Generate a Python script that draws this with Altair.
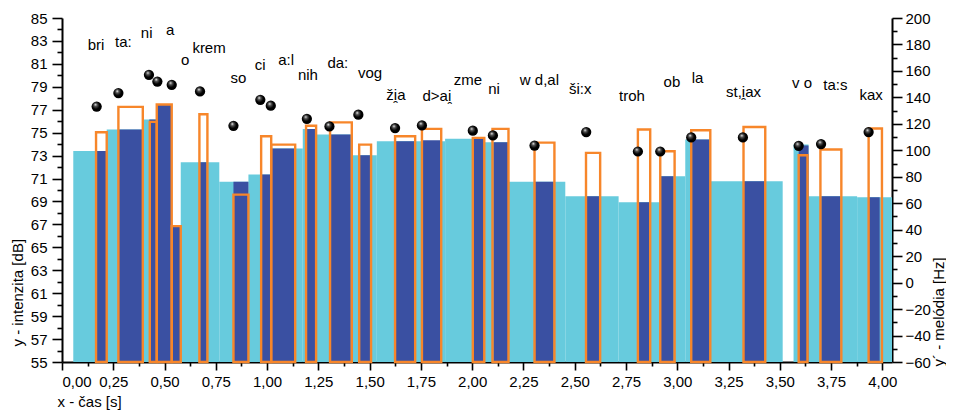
import altair as alt
import pandas as pd

# ---- data ----
# background (word) intensity segments, dB
cyan_x0 = [0.055, 0.218, 0.394, 0.579, 0.767, 0.909, 1.020, 1.174, 1.239, 1.408, 1.535, 1.868, 2.059, 2.177, 2.454, 2.714, 2.917, 3.039, 3.158, 3.567, 3.640, 3.877]
cyan_x1 = [0.218, 0.394, 0.535, 0.767, 0.909, 1.020, 1.174, 1.239, 1.408, 1.535, 1.868, 2.059, 2.177, 2.454, 2.714, 2.917, 3.039, 3.158, 3.514, 3.640, 3.877, 4.047]
cyan_db = [73.4, 75.27, 76.14, 72.42, 70.71, 71.35, 73.62, 75.33, 74.84, 73.03, 74.25, 74.46, 74.17, 70.71, 69.46, 68.94, 71.2, 74.4, 70.77, 73.96, 69.46, 69.37]

# vowel intensity bars (dark blue), dB
v_x0 = [0.169, 0.275, 0.426, 0.462, 0.535, 0.673, 0.836, 0.971, 1.020, 1.194, 1.307, 1.449, 1.624, 1.755, 2.003, 2.104, 2.307, 2.559, 2.811, 2.917, 3.072, 3.323, 3.592, 3.702, 3.933]
v_x1 = [0.218, 0.394, 0.462, 0.535, 0.579, 0.706, 0.909, 1.020, 1.137, 1.239, 1.408, 1.507, 1.719, 1.849, 2.059, 2.177, 2.397, 2.620, 2.868, 2.982, 3.158, 3.429, 3.640, 3.795, 3.987]
v_db = [73.4, 75.27, 76.14, 77.45, 66.85, 72.42, 70.71, 71.35, 73.62, 75.33, 74.84, 73.03, 74.25, 74.34, 74.46, 74.17, 70.71, 69.46, 68.94, 71.2, 74.4, 70.77, 73.87, 69.46, 69.37]

# orange outlined bars, dB
o_x0 = [0.166, 0.275, 0.428, 0.462, 0.535, 0.670, 0.836, 0.971, 1.020, 1.190, 1.307, 1.449, 1.624, 1.755, 2.003, 2.099, 2.304, 2.555, 2.808, 2.917, 3.068, 3.323, 3.592, 3.698, 3.933]
o_x1 = [0.218, 0.394, 0.462, 0.535, 0.579, 0.709, 0.909, 1.020, 1.137, 1.239, 1.413, 1.507, 1.722, 1.849, 2.059, 2.177, 2.401, 2.624, 2.868, 2.987, 3.161, 3.429, 3.635, 3.800, 3.998]
o_db = [75.04, 77.25, 75.94, 77.45, 66.85, 76.6, 69.6, 74.69, 73.96, 75.6, 75.9, 73.96, 74.69, 75.33, 74.55, 75.33, 74.13, 73.24, 75.27, 73.38, 75.21, 75.5, 73.03, 73.53, 75.36]

# melody points, Hz (right axis)
d_x = [0.169, 0.275, 0.424, 0.465, 0.535, 0.673, 0.836, 0.967, 1.018, 1.194, 1.304, 1.445, 1.624, 1.755, 2.003, 2.101, 2.304, 2.556, 2.808, 2.917, 3.068, 3.320, 3.592, 3.701, 3.933]
d_hz = [133.1, 143.3, 157.1, 152.0, 149.5, 144.5, 118.5, 138.2, 133.7, 123.8, 118.0, 126.9, 116.8, 118.8, 114.8, 111.2, 103.6, 113.8, 99.1, 99.1, 109.7, 109.7, 103.4, 104.7, 113.8]

# syllable labels
lab_text = ["bri", "ta:", "ni", "a", "o", "krem", "so", "ci", "a:l", "nih", "da:", "vog",
            "ži\u032fa", "d>ai\u032f", "zme", "ni", "w d,al", "ši:x", "troh", "ob", "la",
            "st,i\u032fax", "v o", "ta:s", "kax"]
lab_x = [0.166, 0.299, 0.413, 0.527, 0.600, 0.717, 0.860, 0.966, 1.093, 1.199, 1.345, 1.502,
         1.628, 1.828, 1.979, 2.107, 2.328, 2.527, 2.779, 2.974, 3.099, 3.323, 3.608, 3.771, 3.945]
lab_db = [82.61, 82.91, 83.69, 83.98, 81.31, 82.39, 79.77, 80.93, 81.37, 80.0, 81.08, 80.21,
          78.32, 78.17, 79.56, 78.82, 79.56, 78.82, 78.17, 79.39, 79.77, 78.55, 79.34, 79.19, 78.26]

x_ticks = [i * 0.125 for i in range(33)]
db_ticks = list(range(55, 86))
hz_ticks = list(range(-60, 201, 10))

CYAN = "#67CBDD"
BLUE = "#3A50A2"
ORANGE = "#F7862A"
FONT = "Liberation Sans"

cyan_df = pd.DataFrame({"x0": cyan_x0, "x1": cyan_x1, "db": cyan_db})
v_df = pd.DataFrame({"x0": v_x0, "x1": v_x1, "db": v_db})
o_df = pd.DataFrame({"x0": o_x0, "x1": o_x1, "db": o_db})
d_df = pd.DataFrame({"x0": d_x, "hz": d_hz})
lab_df = pd.DataFrame({"x0": lab_x, "db": lab_db, "t": lab_text})

xscale = alt.Scale(domain=[0, 4.047], nice=False, zero=False)
yscale = alt.Scale(domain=[55, 85], nice=False, zero=False)
hzscale = alt.Scale(domain=[-60, 200], nice=False, zero=False)

x_axis = alt.Axis(
    values=x_ticks,
    labelExpr="datum.value % 0.25 === 0 ? replace(format(datum.value, '.2f'), '.', ',') : ''",
    tickSize={"condition": {"test": "datum.value % 0.25 !== 0", "value": 4}, "value": 8},
    labelPadding=4,
    title="x - čas [s]",
    titleX=-5, titleY=39, titleAlign="left", titleBaseline="middle",
    grid=False,
)
y_axis = alt.Axis(
    values=db_ticks,
    labelExpr="datum.value % 2 === 1 ? datum.label : ''",
    tickSize={"condition": {"test": "datum.value % 2 !== 1", "value": 5}, "value": 10},
    labelPadding=5,
    title="y - intenzita [dB]",
    titleAngle=270, titleX=-45, titleY=328, titleAlign="left", titleBaseline="middle",
    grid=False,
)
hz_axis = alt.Axis(
    orient="right",
    values=hz_ticks,
    labelExpr="datum.value % 20 === 0 ? datum.label : ''",
    tickSize={"condition": {"test": "datum.value % 20 !== 0", "value": 5}, "value": 10},
    labelPadding=3,
    title="y´ - melódia [Hz]",
    titleAngle=270, titleX=46, titleY=348, titleAlign="left", titleBaseline="middle",
    grid=False,
)

X = alt.X("x0:Q", scale=xscale, axis=x_axis)
Y = alt.Y("db:Q", scale=yscale, axis=y_axis)

cyan = alt.Chart(cyan_df).mark_rect(color=CYAN).encode(
    x=X, x2="x1:Q", y=Y, y2=alt.datum(55),
)
blue = alt.Chart(v_df).mark_rect(color=BLUE).encode(
    x=X, x2="x1:Q", y=Y, y2=alt.datum(55),
)
orange = alt.Chart(o_df).mark_rect(fillOpacity=0, stroke=ORANGE, strokeWidth=2.4).encode(
    x=X, x2="x1:Q", y=Y, y2=alt.datum(55),
)
labels = alt.Chart(lab_df).mark_text(font=FONT, fontSize=15, color="black",
                                     align="center", baseline="middle").encode(
    x=X, y=Y, text="t:N",
)

sphere = alt.RadialGradient(
    gradient="radial",
    stops=[alt.GradientStop(offset=0, color="#ffffff"),
           alt.GradientStop(offset=0.25, color="#555555"),
           alt.GradientStop(offset=0.6, color="#000000"),
           alt.GradientStop(offset=1, color="#000000")],
    x1=0.38, y1=0.3, r1=0, x2=0.45, y2=0.45, r2=0.6,
)
dots = alt.Chart(d_df).mark_circle(size=105, opacity=1, fill=sphere).encode(
    x=X,
    y=alt.Y("hz:Q", scale=hzscale, axis=hz_axis),
)

db_layer = alt.layer(cyan, blue, orange, labels)

chart = alt.layer(db_layer, dots).resolve_scale(y="independent").properties(
    width=830, height=344,
    autosize=alt.AutoSizeParams(type="none"),
    padding={"left": 54, "top": 10, "right": 54, "bottom": 51},
).configure_view(stroke=None).configure_axis(
    labelFont=FONT, labelFontSize=15, labelColor="black",
    titleFont=FONT, titleFontSize=15, titleFontWeight="normal", titleColor="black",
    domainColor="black", domainWidth=2, tickColor="black", tickWidth=1.6,
    labelOverlap=False,
)

chart.save("out.html", embed_options={"renderer": "svg", "actions": False})
